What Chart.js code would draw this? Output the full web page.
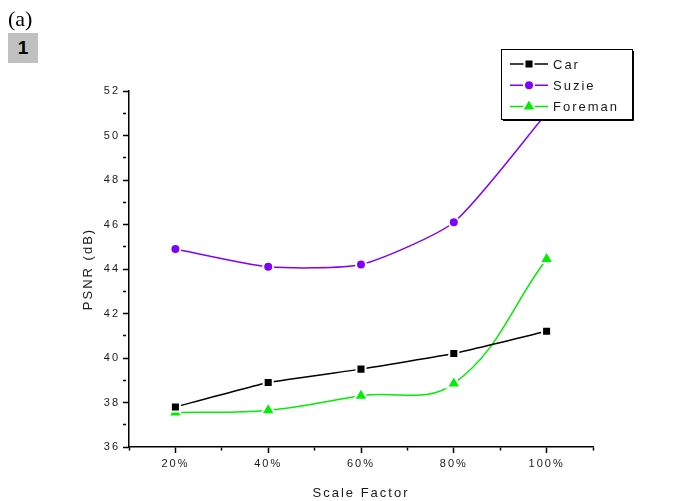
<!DOCTYPE html>
<html>
<head>
<meta charset="utf-8">
<script src="https://cdn.jsdelivr.net/npm/chart.js@4"></script>
<style>
  html, body { margin: 0; padding: 0; background: #fff; }
  #wrap { position: absolute; left: 0; top: 0; width: 675px; height: 501px; }
  #tag { position: absolute; left: 8px; top: 8px; font: 22px "Liberation Serif", serif; line-height: 1; color: #000; }
  #num { position: absolute; left: 8px; top: 33px; width: 30px; height: 30px; background: #c0c0c0;
         font: bold 19px "Liberation Sans", Arial, sans-serif; line-height: 30px; text-align: center; color: #000; }
</style>
</head>
<body>
<div id="wrap"><canvas id="chart"></canvas></div>
<div id="tag">(a)</div>
<div id="num">1</div>
<script>
  const scaleFactors = [20, 40, 60, 80, 100];
  const car = [37.8, 38.9, 39.5, 40.2, 41.2];
  const suzie = [44.9, 44.1, 44.2, 46.1, 51.0];
  const foreman = [37.55, 37.65, 38.3, 38.85, 44.45];
  const seriesNames = ["Car", "Suzie", "Foreman"];

  const textColor = "#1a1a1a";
  const font = "Liberation Sans, Arial, sans-serif";

  function points(values) {
    return scaleFactors.map((x, i) => ({ x: x, y: values[i] }));
  }

  const styles = [
    { color: "#000000", pointStyle: "rect", radius: 6.4, tension: 0.1 },
    { color: "#8000ff", pointStyle: "circle", radius: 5, tension: 0.2 },
    { color: "#00ee00", pointStyle: "triangle", radius: 8, tension: 0.4 },
  ];

  function dataset(label, values, s, order) {
    return {
      label: label,
      data: points(values),
      borderColor: s.color,
      borderWidth: 1.5,
      tension: s.tension,
      pointStyle: s.pointStyle,
      pointRadius: s.radius,
      pointHoverRadius: s.radius,
      pointBackgroundColor: s.color,
      pointBorderColor: "#fff",
      pointBorderWidth: 2,
      order: order,
    };
  }

  // letter spacing like the original screen output
  const spacing = {
    id: "spacing",
    beforeDraw(chart) { chart.ctx.letterSpacing = "2px"; },
  };

  // legend box in the top right corner, drawn over the lines
  const boxLegend = {
    id: "boxLegend",
    afterDatasetsDraw(chart) {
      const ctx = chart.ctx;
      const x0 = 501, y0 = 49, w = 131, h = 70;
      ctx.save();
      ctx.fillStyle = "#fff";
      ctx.fillRect(x0, y0, w, h);
      ctx.strokeStyle = "#000";
      ctx.lineWidth = 1;
      ctx.strokeRect(x0 + 0.5, y0 + 0.5, w, h);
      ctx.beginPath();
      ctx.moveTo(x0 + w + 1.5, y0 + 2);
      ctx.lineTo(x0 + w + 1.5, y0 + h + 1.5);
      ctx.lineTo(x0 + 2, y0 + h + 1.5);
      ctx.stroke();
      seriesNames.forEach((name, i) => {
        const s = styles[i];
        const y = 64 + i * 21.3;
        ctx.strokeStyle = s.color;
        ctx.lineWidth = 1.5;
        ctx.beginPath();
        ctx.moveTo(510, y);
        ctx.lineTo(548, y);
        ctx.stroke();
        ctx.fillStyle = s.color;
        ctx.strokeStyle = "#fff";
        ctx.lineWidth = 2;
        Chart.helpers.drawPoint(ctx, { pointStyle: s.pointStyle, radius: s.radius, borderWidth: 2 }, 529, y);
        ctx.fillStyle = textColor;
        ctx.font = "13px " + font;
        ctx.textBaseline = "middle";
        ctx.textAlign = "left";
        ctx.fillText(name, 553, y + 1);
      });
      ctx.restore();
    },
  };

  new Chart(document.getElementById("chart"), {
    type: "line",
    data: {
      datasets: [
        dataset("Car", car, styles[0], 0),
        dataset("Suzie", suzie, styles[1], 1),
        dataset("Foreman", foreman, styles[2], 2),
      ],
    },
    options: {
      responsive: true,
      maintainAspectRatio: false,
      animation: false,
      layout: { padding: { left: 0, top: 91, right: 82, bottom: 0 } },
      plugins: { legend: { display: false }, tooltip: { enabled: false } },
      scales: {
        x: {
          type: "linear",
          min: 10,
          max: 110,
          afterFit(scale) { scale.height = 54; },
          border: { color: "#000", width: 1.5 },
          grid: {
            drawOnChartArea: false,
            drawTicks: true,
            tickLength: 6,
            tickColor: "#000",
            tickWidth: 1.5,
            tickBorderDash: (c) => (c.tick && c.tick.value % 20 !== 0 ? [3, 10] : []),
          },
          ticks: {
            stepSize: 10,
            autoSkip: false,
            maxRotation: 0,
            padding: 4,
            color: textColor,
            font: { family: font, size: 11 },
            callback: (v) => (v % 20 === 0 ? v + "%" : ""),
          },
          title: {
            display: true,
            text: "Scale Factor",
            color: textColor,
            font: { family: font, size: 13 },
            padding: { top: 5, bottom: 0 },
          },
        },
        y: {
          min: 36,
          max: 52,
          afterFit(scale) { scale.width = 129; },
          border: { color: "#000", width: 1.5 },
          grid: {
            drawOnChartArea: false,
            drawTicks: true,
            tickLength: 6,
            tickColor: "#000",
            tickWidth: 1.5,
            tickBorderDash: (c) => (c.tick && c.tick.value % 2 !== 0 ? [3, 10] : []),
          },
          ticks: {
            stepSize: 1,
            autoSkip: false,
            padding: 3,
            color: textColor,
            font: { family: font, size: 11 },
            callback: (v) => (v % 2 === 0 ? v : ""),
          },
          title: {
            display: true,
            text: "PSNR (dB)",
            color: textColor,
            font: { family: font, size: 13 },
            padding: { top: 81, bottom: 0 },
          },
        },
      },
    },
    plugins: [spacing, boxLegend],
  });
</script>
</body>
</html>
